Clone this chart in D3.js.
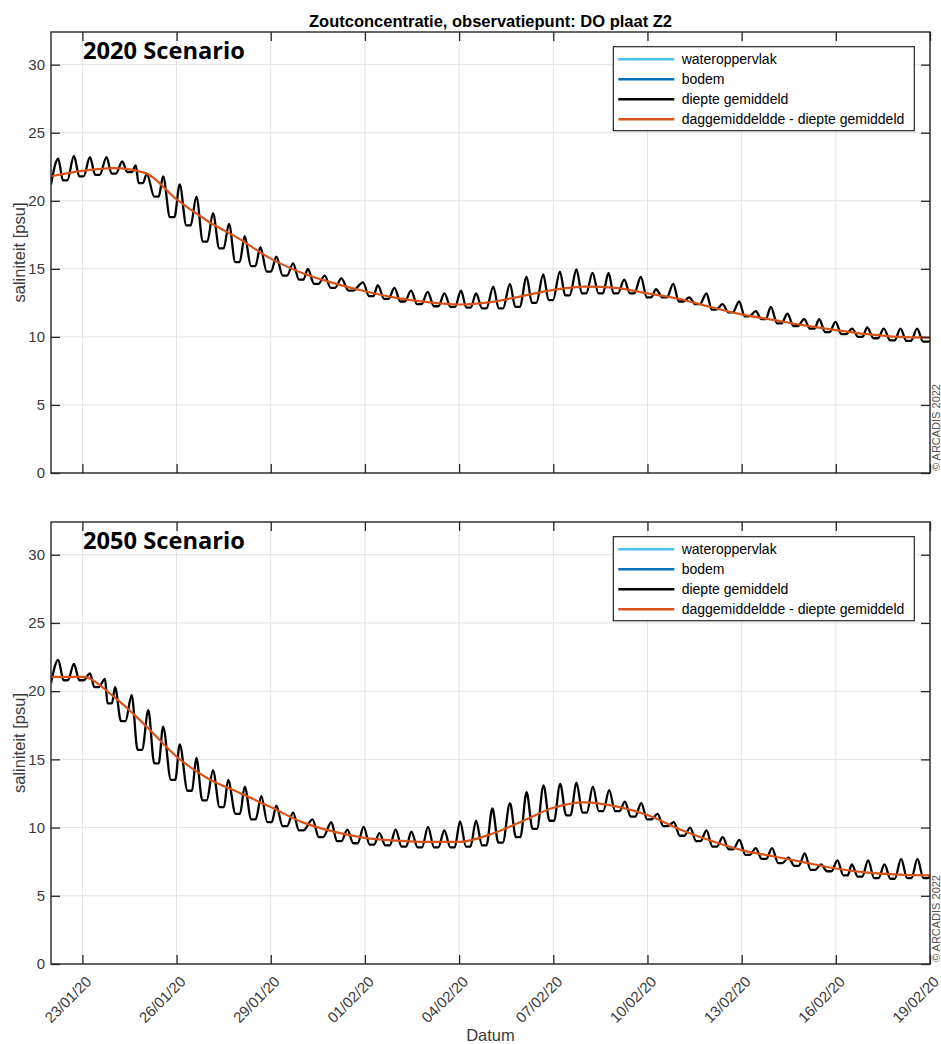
<!DOCTYPE html>
<html>
<head>
<meta charset="utf-8">
<script src="https://cdn.jsdelivr.net/npm/d3@7"></script>
<style>
  body { margin: 0; background: #fff; }
  svg { display: block; font-family: "Liberation Sans", Arial, sans-serif; }
</style>
</head>
<body>
<svg id="chart" width="941" height="1044"></svg>
<script>
// ---- data -------------------------------------------------------------
const startDate = "2020-01-22";
const endDate = "2020-02-19";
const tickDates = ["2020-01-23", "2020-01-26", "2020-01-29", "2020-02-01", "2020-02-04",
                   "2020-02-07", "2020-02-10", "2020-02-13", "2020-02-16", "2020-02-19"];
const yTicks = [0, 5, 10, 15, 20, 25, 30];
const yMax = 32.4;

const titleText = "Zoutconcentratie, observatiepunt: DO plaat Z2";
const scenarioNames = ["2020 Scenario", "2050 Scenario"];
const seriesNames = ["wateroppervlak", "bodem", "diepte gemiddeld", "daggemiddeldde - diepte gemiddeld"];
const seriesColors = ["#4DBEEE", "#0072BD", "#000000", "#D95319"];

// daily mean salinity (psu), one value per day from 22/01/20 00:00
const dailyMean2020 = [21.8, 22.2, 22.4, 22.05, 20.1, 18.5, 17.2, 15.75, 14.7, 13.95,
                       13.35, 12.87, 12.55, 12.38, 12.55, 13.0, 13.45, 13.7, 13.6, 13.2,
                       12.8, 12.2, 11.65, 11.25, 10.85, 10.5, 10.2, 10.0, 9.95];
const dailyMean2050 = [21.05, 21.05, 19.6, 17.5, 15.2, 13.6, 12.55, 11.5, 10.4, 9.7,
                       9.25, 9.05, 8.95, 8.95, 9.5, 10.45, 11.45, 11.85, 11.55, 10.92,
                       9.9, 9.05, 8.35, 7.9, 7.45, 7.0, 6.7, 6.55, 6.5];

// depth-averaged salinity: tidal turning points [days since 22/01/20, psu]
const tide2020 = [
  [0, 21.2],
  [0.23, 23.1], [0.45, 21.5], [0.73, 23.3], [0.97, 21.8], [1.24, 23.2], [1.48, 21.9],
  [1.77, 23.2], [2.0, 22.0], [2.27, 22.9], [2.5, 22.1], [2.70, 22.6], [2.86, 21.3],
  [3.05, 22.0], [3.36, 20.3], [3.57, 21.8], [3.86, 18.8], [4.10, 21.2], [4.38, 18.2],
  [4.63, 20.3], [4.91, 17.0], [5.16, 19.1], [5.43, 16.5], [5.67, 18.3], [5.94, 15.5],
  [6.17, 17.4], [6.44, 15.2], [6.67, 16.6], [6.94, 14.8], [7.18, 15.9], [7.45, 14.5],
  [7.71, 15.4], [7.97, 14.2], [8.18, 15.0], [8.45, 13.9], [8.72, 14.5], [8.98, 13.6],
  [9.25, 14.3], [9.55, 13.4], [9.94, 14.0], [10.2, 13.0], [10.41, 13.8], [10.68, 12.8],
  [10.94, 13.6], [11.2, 12.6], [11.47, 13.4], [11.73, 12.4], [12.0, 13.3], [12.27, 12.25],
  [12.53, 13.2], [12.8, 12.2], [13.06, 13.4], [13.3, 12.15], [13.54, 13.2], [13.8, 12.1],
  [14.09, 13.7], [14.33, 12.1], [14.62, 13.9], [14.86, 12.2], [15.15, 14.4], [15.39, 12.5],
  [15.68, 14.6], [15.92, 12.7], [16.21, 14.8], [16.45, 13.05], [16.74, 14.95], [16.98, 13.2],
  [17.25, 14.7], [17.51, 13.2], [17.76, 14.7], [17.99, 13.2], [18.26, 14.2], [18.51, 13.2],
  [18.79, 14.4], [19.05, 12.9], [19.27, 13.5], [19.55, 12.9], [19.82, 13.9], [20.07, 12.6],
  [20.33, 12.9], [20.6, 12.4], [20.88, 13.2], [21.12, 12.0], [21.39, 12.4], [21.65, 11.8],
  [21.92, 12.6], [22.17, 11.5], [22.45, 11.9], [22.7, 11.3], [22.93, 12.2], [23.2, 11.0],
  [23.46, 11.7], [23.72, 10.8], [23.99, 11.3], [24.25, 10.6], [24.47, 11.3], [24.73, 10.35],
  [24.99, 11.1], [25.25, 10.2], [25.52, 10.6], [25.78, 10.0], [26.0, 10.7], [26.27, 9.9],
  [26.53, 10.6], [26.8, 9.75], [27.06, 10.6], [27.32, 9.7], [27.59, 10.6], [27.85, 9.65],
  [28, 9.7]
];
const tide2050 = [
  [0, 20.6],
  [0.23, 22.3], [0.47, 20.8], [0.73, 22.0], [0.97, 20.8], [1.24, 21.3], [1.45, 20.3],
  [1.72, 20.9], [1.87, 19.1], [2.04, 20.3], [2.3, 17.8], [2.57, 19.7], [2.83, 15.7],
  [3.10, 18.6], [3.36, 14.7], [3.57, 17.4], [3.89, 13.5], [4.10, 16.1], [4.42, 12.7],
  [4.63, 15.1], [4.89, 12.0], [5.16, 14.2], [5.44, 11.5], [5.64, 13.5], [5.95, 11.0],
  [6.17, 13.0], [6.45, 10.6], [6.70, 12.3], [6.96, 10.4], [7.18, 11.6], [7.45, 10.1],
  [7.71, 11.1], [7.97, 9.8], [8.33, 10.6], [8.6, 9.3], [8.93, 10.4], [9.18, 9.0],
  [9.44, 9.85], [9.7, 8.85], [9.96, 10.05], [10.22, 8.75], [10.46, 9.6], [10.72, 8.7],
  [10.98, 9.85], [11.24, 8.6], [11.48, 9.7], [11.75, 8.55], [12.01, 10.05], [12.27, 8.55],
  [12.53, 9.8], [12.79, 8.55], [13.03, 10.45], [13.29, 8.6], [13.54, 10.5], [13.8, 8.7],
  [14.06, 11.4], [14.32, 8.9], [14.62, 11.8], [14.88, 9.3], [15.15, 12.6], [15.41, 9.9],
  [15.69, 13.1], [15.95, 10.5], [16.22, 13.2], [16.48, 10.9], [16.74, 13.3], [17.0, 11.1],
  [17.26, 13.0], [17.52, 11.2], [17.78, 12.75], [18.04, 11.2], [18.28, 11.9], [18.54, 10.8],
  [18.8, 11.8], [19.06, 10.6], [19.32, 11.0], [19.58, 10.1], [19.84, 10.4], [20.1, 9.4],
  [20.36, 10.0], [20.62, 9.0], [20.88, 9.8], [21.14, 8.6], [21.4, 9.3], [21.66, 8.4],
  [21.93, 9.1], [22.19, 8.0], [22.45, 8.5], [22.71, 7.7], [22.97, 8.5], [23.23, 7.4],
  [23.49, 7.8], [23.75, 7.2], [24.01, 8.1], [24.27, 6.9], [24.53, 7.3], [24.79, 6.8],
  [25.05, 7.6], [25.31, 6.5], [25.51, 7.3], [25.77, 6.4], [26.03, 7.6], [26.29, 6.3],
  [26.55, 7.3], [26.81, 6.25], [27.08, 7.7], [27.34, 6.3], [27.6, 7.7], [27.86, 6.3],
  [28, 6.4]
];

// ---- layout -----------------------------------------------------------
const W = 941, H = 1044;
const plotLeft = 51, plotRight = 930;
const panels = [
  { top: 32,  bottom: 473, scenario: scenarioNames[0], mean: dailyMean2020, tide: tide2020, xLabels: false, title: true },
  { top: 522, bottom: 964, scenario: scenarioNames[1], mean: dailyMean2050, tide: tide2050, xLabels: true,  title: false }
];

const axisColor = "#262626";
const labelColor = "#3a3a3a";
const gridColor = "#e3e3e3";
const DAY = 864e5;
const t0 = d3.utcParse("%Y-%m-%d")(startDate);
const t1 = d3.utcParse("%Y-%m-%d")(endDate);
const toDate = d => new Date(t0.getTime() + d * DAY);
const fmt = d3.utcFormat("%d/%m/%y");
const ticks = tickDates.map(d3.utcParse("%Y-%m-%d"));

const svg = d3.select("#chart");
svg.append("rect").attr("width", W).attr("height", H).attr("fill", "#fff");

const x = d3.scaleUtc().domain([t0, t1]).range([plotLeft, plotRight]);

// draw troughs as a short flat stretch, peaks stay sharp
function tidePoints(arr) {
  const out = [];
  arr.forEach((p, i) => {
    const prev = arr[i - 1], next = arr[i + 1];
    if (prev && next && p[1] < prev[1] && p[1] < next[1]) {
      out.push([p[0] - 0.07, p[1]]);
      out.push([p[0] + 0.07, p[1]]);
    } else out.push(p);
  });
  return out;
}

panels.forEach((pn, idx) => {
  const y = d3.scaleLinear().domain([0, yMax]).range([pn.bottom, pn.top]);
  const g = svg.append("g");
  const clipId = "clip" + idx;
  svg.append("clipPath").attr("id", clipId).append("rect")
    .attr("x", plotLeft).attr("y", pn.top)
    .attr("width", plotRight - plotLeft).attr("height", pn.bottom - pn.top);

  // grid
  g.append("g").selectAll("line").data(ticks).join("line")
    .attr("x1", d => x(d)).attr("x2", d => x(d))
    .attr("y1", pn.top).attr("y2", pn.bottom)
    .attr("stroke", gridColor).attr("stroke-width", 1);
  g.append("g").selectAll("line").data(yTicks).join("line")
    .attr("x1", plotLeft).attr("x2", plotRight)
    .attr("y1", d => y(d)).attr("y2", d => y(d))
    .attr("stroke", gridColor).attr("stroke-width", 1);

  // series
  const data = g.append("g").attr("clip-path", `url(#${clipId})`);
  const tideLine = d3.line()
    .x(d => x(toDate(d[0]))).y(d => y(d[1]))
    .curve(d3.curveMonotoneX);
  data.append("path")
    .attr("d", tideLine(tidePoints(pn.tide)))
    .attr("fill", "none").attr("stroke", seriesColors[2])
    .attr("stroke-width", 2.3).attr("stroke-linejoin", "round");
  const meanLine = d3.line()
    .x((d, i) => x(toDate(i))).y(d => y(d))
    .curve(d3.curveMonotoneX);
  data.append("path")
    .attr("d", meanLine(pn.mean))
    .attr("fill", "none").attr("stroke", seriesColors[3])
    .attr("stroke-width", 2.2);

  // axes (box with inward ticks)
  const tickLen = 9;
  const left = d3.axisLeft(y).tickValues(yTicks).tickSize(-tickLen).tickPadding(6);
  const right = d3.axisRight(y).tickValues(yTicks).tickSize(-tickLen).tickFormat("");
  const bottom = d3.axisBottom(x).tickValues(ticks).tickSize(-tickLen).tickFormat("");
  const top = d3.axisTop(x).tickValues(ticks).tickSize(-tickLen).tickFormat("");

  const styleAxis = sel => {
    sel.select(".domain").remove();
    sel.selectAll(".tick line").attr("stroke", axisColor).attr("stroke-width", 1.3);
    sel.selectAll(".tick text").attr("fill", labelColor)
      .style("font-size", "15px").style("font-family", '"Liberation Sans", Arial, sans-serif');
  };
  g.append("g").attr("transform", `translate(${plotLeft},0)`).call(left).call(styleAxis);
  g.append("g").attr("transform", `translate(${plotRight},0)`).call(right).call(styleAxis);
  g.append("g").attr("transform", `translate(0,${pn.bottom})`).call(bottom).call(styleAxis);
  g.append("g").attr("transform", `translate(0,${pn.top})`).call(top).call(styleAxis);

  g.append("rect")
    .attr("x", plotLeft).attr("y", pn.top)
    .attr("width", plotRight - plotLeft).attr("height", pn.bottom - pn.top)
    .attr("fill", "none").attr("stroke", axisColor).attr("stroke-width", 1.4);

  // rotated date labels
  if (pn.xLabels) {
    g.append("g").selectAll("text").data(ticks).join("text")
      .attr("transform", d => `translate(${x(d) + 10},${pn.bottom + 18.5}) rotate(-45)`)
      .attr("text-anchor", "end")
      .attr("fill", labelColor).style("font-size", "15px")
      .text(d => fmt(d));
    g.append("text")
      .attr("x", (plotLeft + plotRight) / 2).attr("y", 1041)
      .attr("text-anchor", "middle").attr("fill", labelColor)
      .style("font-size", "16.5px").text("Datum");
  }

  // y label
  g.append("text")
    .attr("transform", `translate(25,${(pn.top + pn.bottom) / 2}) rotate(-90)`)
    .attr("text-anchor", "middle").attr("fill", labelColor)
    .style("font-size", "16.5px").text("saliniteit [psu]");

  // copyright
  g.append("text")
    .attr("transform", `translate(940,${pn.bottom - 2}) rotate(-90)`)
    .attr("text-anchor", "start").attr("fill", "#555")
    .style("font-size", "11px").text("\u00A9 ARCADIS 2022");

  // scenario label
  g.append("text")
    .attr("x", 83).attr("y", pn.top + 27.3)
    .attr("textLength", 162).attr("lengthAdjust", "spacingAndGlyphs")
    .style("font-family", '"Open Sans", sans-serif').style("font-weight", 700)
    .style("font-size", "23px").attr("fill", "#000")
    .text(pn.scenario);

  // legend
  const lg = g.append("g").attr("transform", `translate(613.3,${pn.top + 14.7})`);
  lg.append("rect").attr("width", 301).attr("height", 84)
    .attr("fill", "#fff").attr("stroke", axisColor).attr("stroke-width", 1.2);
  seriesNames.forEach((name, i) => {
    const yy = 12.6 + i * 20;
    lg.append("line").attr("x1", 5).attr("x2", 61).attr("y1", yy).attr("y2", yy)
      .attr("stroke", seriesColors[i]).attr("stroke-width", 2.6);
    lg.append("text").attr("x", 68.4).attr("y", yy + 5)
      .attr("fill", "#000").style("font-size", "14px").text(name);
  });

  if (pn.title) {
    svg.append("text")
      .attr("x", (plotLeft + plotRight) / 2).attr("y", 26.5)
      .attr("text-anchor", "middle").attr("fill", "#000")
      .style("font-size", "16.5px").style("font-weight", 700)
      .text(titleText);
  }
});
</script>
</body>
</html>
